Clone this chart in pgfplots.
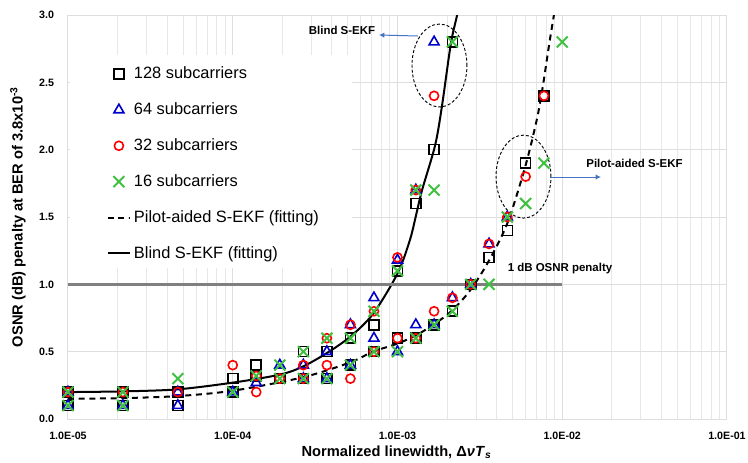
\documentclass[border=0pt]{standalone}
\usepackage{fontspec}
\setmainfont{Liberation Sans}
\usepackage{pgfplots}
\pgfplotsset{compat=1.18}
\usetikzlibrary{arrows.meta}
\definecolor{mkblue}{RGB}{0,0,204}
\definecolor{mkred}{RGB}{255,0,0}
\definecolor{mkgreen}{RGB}{64,192,64}
\definecolor{arrowblue}{RGB}{68,114,196}
\definecolor{gridc}{RGB}{222,222,222}
\definecolor{gridm}{RGB}{232,232,232}
\definecolor{refline}{RGB}{128,128,128}
\begin{document}
\begin{tikzpicture}
\useasboundingbox (-51pt,-32.25pt) rectangle (510pt,314.25pt);
\begin{axis}[
  scale only axis, width=494.25pt, height=303pt,
  xmode=log, xmin=1e-5, xmax=1e-1, ymin=0, ymax=3,
  xtick={1e-5,1e-4,1e-3,1e-2,1e-1},
  xticklabels={1.0E-05,1.0E-04,1.0E-03,1.0E-02,1.0E-01},
  minor xtick={2e-5,3e-5,4e-5,5e-5,6e-5,7e-5,8e-5,9e-5,2e-4,3e-4,4e-4,5e-4,6e-4,7e-4,8e-4,9e-4,2e-3,3e-3,4e-3,5e-3,6e-3,7e-3,8e-3,9e-3,2e-2,3e-2,4e-2,5e-2,6e-2,7e-2,8e-2,9e-2},
  ytick={0,0.5,1,1.5,2,2.5,3},
  /pgf/number format/fixed, /pgf/number format/fixed zerofill, /pgf/number format/precision=1,
  /pgf/number format/assume math mode=true,
  ticklabel style={font=\fontsize{8}{9.6}\selectfont\bfseries},
  xticklabel style={yshift=-6pt},
  yticklabel style={xshift=-7pt},
  tick style={draw=none},
  xmajorgrids, xminorgrids, ymajorgrids,
  major grid style={draw=gridc, line width=0.75pt},
  minor grid style={draw=gridm, line width=0.75pt},
  axis line style={draw=gridc, line width=0.75pt},
  xlabel={Normalized linewidth, Δ\textit{νT}\textsubscript{\textit{s}}},
  ylabel={OSNR (dB) penalty at BER of 3.8x10\textsuperscript{-3}},
  label style={font=\fontsize{11}{13}\selectfont\bfseries},
  x label style={at={(axis description cs:0.4985,-0.0817)}, anchor=center},
  y label style={at={(axis description cs:-0.0759,0.5)}, anchor=center},
  legend style={at={(0.052,0.885)}, anchor=north west, draw=none, fill=none,
    font=\fontsize{12.3}{14}\selectfont, row sep=12.5pt, cells={anchor=west}},
  legend cell align=left,
]
\fill[white] (rel axis cs:0.003,0.374) rectangle (rel axis cs:0.431,0.901);

% 128 subcarriers
\addplot[only marks, mark=square, mark size=3.75pt, black, line width=1.2pt] coordinates {
(1e-5,0.2)(1e-5,0.1)(2.154e-5,0.2)(2.154e-5,0.1)(4.642e-5,0.2)(4.642e-5,0.1)
(1e-4,0.3)(1e-4,0.2)(1.389e-4,0.4)(1.389e-4,0.32)(1.931e-4,0.3)
(2.683e-4,0.5)(2.683e-4,0.3)(3.728e-4,0.5)(3.728e-4,0.3)(5.179e-4,0.6)(5.179e-4,0.4)
(7.197e-4,0.7)(7.197e-4,0.5)(1e-3,1.1)(1e-3,0.6)(1.292e-3,1.6)(1.292e-3,0.6)
(1.668e-3,2.0)(1.668e-3,0.7)(2.154e-3,2.8)(2.154e-3,0.8)(2.783e-3,1.0)
(3.594e-3,1.2)(4.642e-3,1.4)(5.995e-3,1.9)(7.743e-3,2.4)};
\addlegendentry{128 subcarriers}
% 64 subcarriers
\addplot[only marks, mark=triangle, mark size=4.3pt, mkblue, line width=1.2pt] coordinates {
(1e-5,0.2)(1e-5,0.1)(2.154e-5,0.1)(4.642e-5,0.2)(4.642e-5,0.1)
(1e-4,0.2)(1.389e-4,0.27)(1.931e-4,0.4)
(2.683e-4,0.4)(2.683e-4,0.3)(3.728e-4,0.5)(3.728e-4,0.3)(5.179e-4,0.7)(5.179e-4,0.4)
(7.197e-4,0.9)(7.197e-4,0.6)(1e-3,1.18)(1e-3,0.5)(1.292e-3,1.7)(1.292e-3,0.7)
(1.668e-3,2.8)(1.668e-3,0.7)(2.154e-3,0.9)(2.783e-3,1.0)
(3.594e-3,1.3)(4.642e-3,1.5)};
\addlegendentry{64 subcarriers}
% 32 subcarriers
\addplot[only marks, mark=o, mark size=3.4pt, mkred, line width=1.2pt] coordinates {
(1e-5,0.2)(2.154e-5,0.2)(4.642e-5,0.2)
(1e-4,0.4)(1.389e-4,0.32)(1.389e-4,0.2)(1.931e-4,0.3)
(2.683e-4,0.4)(2.683e-4,0.3)(3.728e-4,0.6)(3.728e-4,0.4)(5.179e-4,0.7)(5.179e-4,0.3)
(7.197e-4,0.8)(7.197e-4,0.5)(1e-3,1.2)(1e-3,0.6)(1.292e-3,1.7)(1.292e-3,0.6)
(1.668e-3,2.4)(1.668e-3,0.8)(2.154e-3,0.9)(2.783e-3,1.0)
(3.594e-3,1.3)(4.642e-3,1.5)(5.995e-3,1.8)(7.743e-3,2.4)};
\addlegendentry{32 subcarriers}
% 16 subcarriers
\addplot[only marks, mark=x, mark size=5.8pt, mkgreen, line width=1.5pt] coordinates {
(1e-5,0.2)(1e-5,0.1)(2.154e-5,0.2)(2.154e-5,0.1)(4.642e-5,0.3)
(1e-4,0.2)(1.389e-4,0.32)(1.931e-4,0.4)(1.931e-4,0.3)
(2.683e-4,0.5)(2.683e-4,0.3)(3.728e-4,0.6)(3.728e-4,0.3)(5.179e-4,0.6)(5.179e-4,0.4)
(7.197e-4,0.8)(7.197e-4,0.5)(1e-3,1.1)(1e-3,0.5)(1.292e-3,1.7)(1.292e-3,0.6)
(1.668e-3,1.7)(1.668e-3,0.7)(2.154e-3,2.8)(2.154e-3,0.8)(2.783e-3,1.0)
(3.594e-3,1.0)(4.642e-3,1.5)(5.995e-3,1.6)(7.743e-3,1.9)(1e-2,2.8)};
\addlegendentry{16 subcarriers}
% Pilot-aided fit
\addplot[black, line width=1.5pt, dash pattern=on 4.5pt off 3.5pt, smooth, tension=0.5] coordinates {
(1e-5,0.15)(2.13e-5,0.155)(4.6e-5,0.17)(1e-4,0.21)(2.67e-4,0.31)(5.15e-4,0.42)(7.1e-4,0.50)
(1e-3,0.56)(1.29e-3,0.62)(1.65e-3,0.70)(2.12e-3,0.80)(2.74e-3,0.95)(3.53e-3,1.16)
(4.63e-3,1.45)(5.95e-3,1.87)(7.0e-3,2.22)(7.6e-3,2.46)(8.35e-3,2.79)(8.9e-3,3.0)(9.4e-3,3.2)};
\addlegendentry{Pilot-aided S-EKF (fitting)}
% Blind fit
\addplot[black, line width=1.5pt, smooth, tension=0.5] coordinates {
(1e-5,0.20)(2.13e-5,0.205)(4.6e-5,0.22)(1e-4,0.27)(1.94e-4,0.33)(2.67e-4,0.39)(3.73e-4,0.49)
(5.15e-4,0.61)(7.1e-4,0.78)(1e-3,1.08)(1.19e-3,1.33)(1.3e-3,1.52)(1.41e-3,1.70)(1.69e-3,2.03)
(1.86e-3,2.32)(2.11e-3,2.79)(2.30e-3,3.0)(2.45e-3,3.2)};
\addlegendentry{Blind S-EKF (fitting)}
% 1 dB line
\addplot[refline, line width=1.8pt, forget plot] coordinates {(1e-5,1)(1e-2,1)};

% annotations
\draw[black, line width=0.7pt, dash pattern=on 2.2pt off 1.5pt] (rel axis cs:0.5637,0.875) ellipse [x radius=20.6pt, y radius=31.1pt];
\draw[black, line width=0.7pt, dash pattern=on 2.2pt off 1.5pt] (rel axis cs:0.6912,0.600) ellipse [x radius=20.6pt, y radius=31.1pt];
\draw[arrowblue, line width=0.75pt, -{Latex[length=4pt,width=4pt]}] (rel axis cs:0.5311,0.948) -- (rel axis cs:0.4719,0.9505);
\draw[arrowblue, line width=0.75pt, -{Latex[length=4pt,width=4pt]}] (rel axis cs:0.7314,0.599) -- (rel axis cs:0.8088,0.599);
\node[font=\fontsize{8.6}{10}\selectfont\bfseries, inner sep=0pt] at (rel axis cs:0.4158,0.9629) {Blind S-EKF};
\node[font=\fontsize{8.6}{10}\selectfont\bfseries, inner sep=0pt] at (rel axis cs:0.8596,0.6337) {Pilot-aided S-EKF};
\node[font=\fontsize{8.6}{10}\selectfont\bfseries, inner sep=0pt] at (rel axis cs:0.7466,0.3713) {1 dB OSNR penalty};
\end{axis}
\end{tikzpicture}
\end{document}
